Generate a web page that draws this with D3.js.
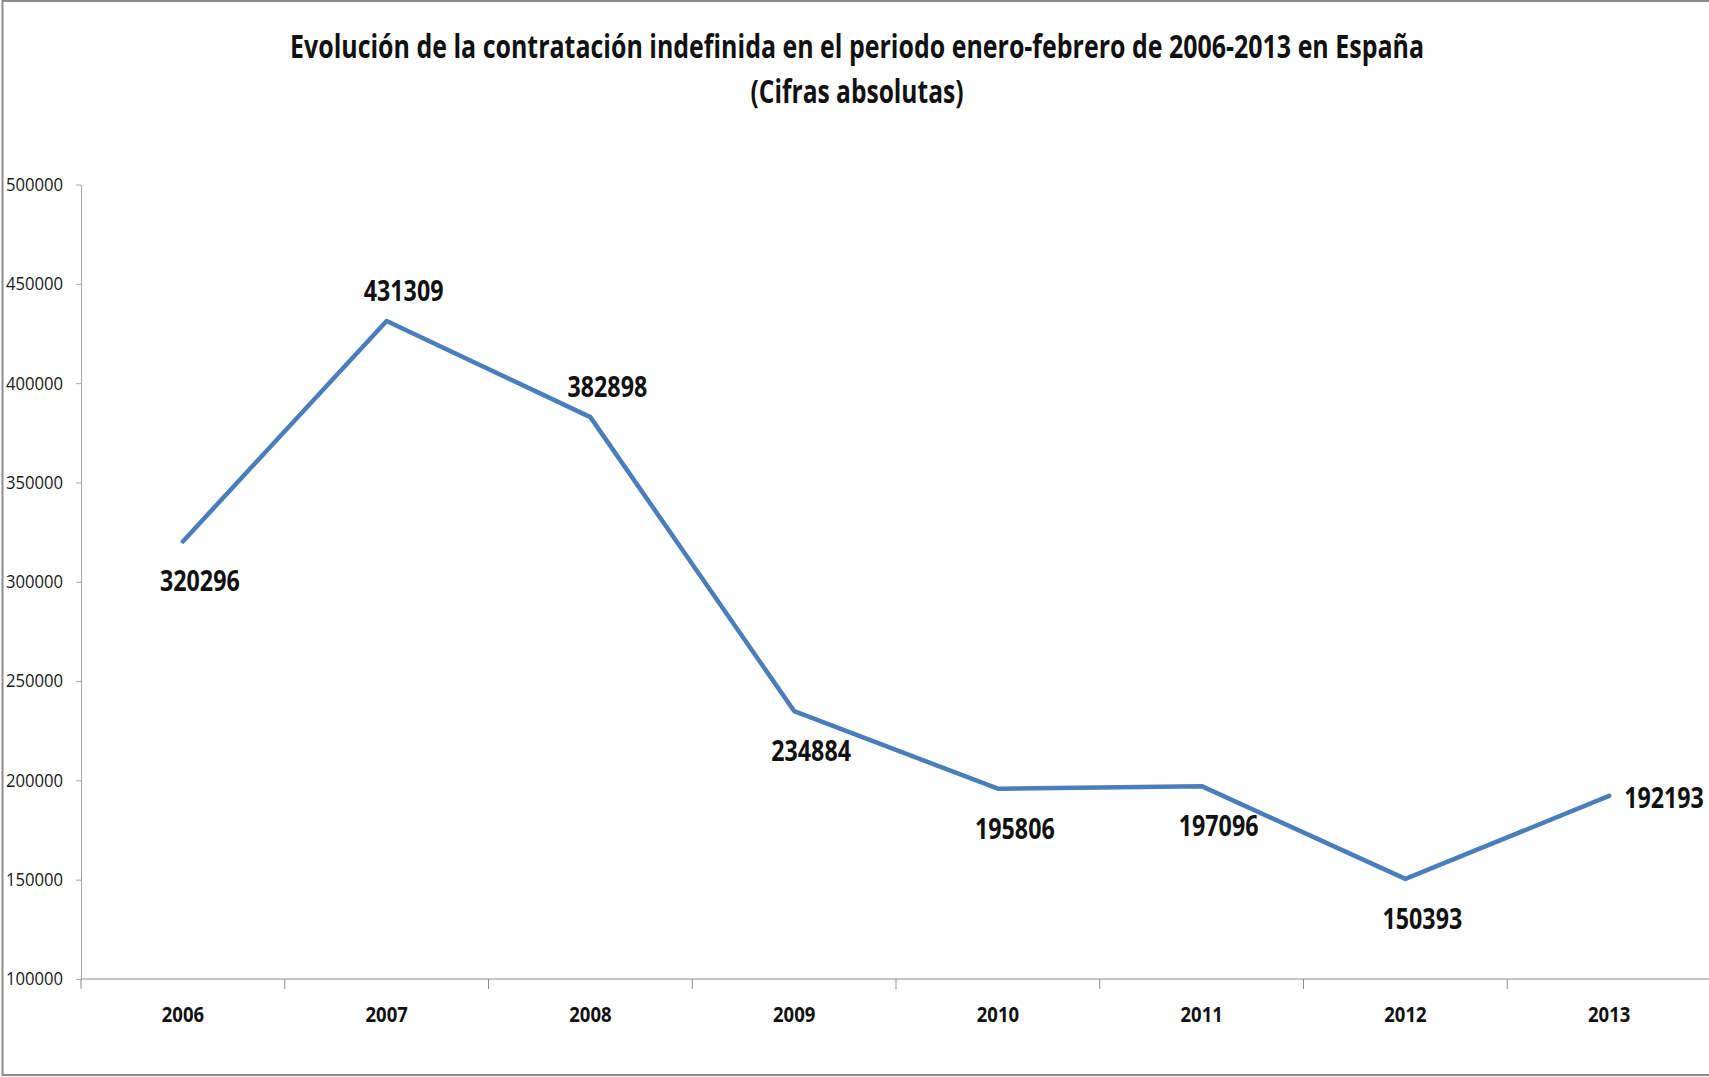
<!DOCTYPE html>
<html>
<head>
<meta charset="utf-8">
<script src="https://cdn.jsdelivr.net/npm/d3@7"></script>
<style>
  html, body { margin: 0; padding: 0; background: #fff; overflow: hidden; }
  svg { display: block; }
</style>
</head>
<body>
<svg id="chart" width="1709" height="1077"></svg>
<script>
// ---- data ----
const years = ["2006", "2007", "2008", "2009", "2010", "2011", "2012", "2013"];
const contratos = [320296, 431309, 382898, 234884, 195806, 197096, 150393, 192193];
const labelPlacement = ["below", "above", "above", "below", "below", "below", "below", "right"];
const yTicks = [100000, 150000, 200000, 250000, 300000, 350000, 400000, 450000, 500000];
const titleLines = [
  "Evolución de la contratación indefinida en el periodo enero-febrero de 2006-2013 en España",
  "(Cifras absolutas)"
];

// ---- layout ----
const W = 1709, H = 1077;
const plot = { left: 81, right: 1711, top: 184.5, bottom: 979 };
const svg = d3.select("#chart");
const FONT = "'Open Sans', 'Liberation Sans', sans-serif";

function squeeze(sel, k) {
  sel.each(function () {
    const w = this.getComputedTextLength();
    d3.select(this).attr("textLength", w * k).attr("lengthAdjust", "spacingAndGlyphs");
  });
}

// border
svg.append("rect")
  .attr("x", 2.5).attr("y", 1).attr("width", W + 20).attr("height", 1074)
  .attr("fill", "#fff").attr("stroke", "#8c8c8c").attr("stroke-width", 2);

// scales
const x = d3.scaleBand().domain(years).range([plot.left, plot.right]).padding(0);
const y = d3.scaleLinear().domain([100000, 500000]).range([plot.bottom, plot.top]);

// y axis
const yAxis = svg.append("g")
  .attr("transform", `translate(${plot.left},0)`)
  .call(d3.axisLeft(y).tickValues(yTicks).tickFormat(d3.format("d"))
    .tickSizeInner(5).tickSizeOuter(0).tickPadding(13));
yAxis.select(".domain").attr("stroke", "#a6a6a6");
yAxis.selectAll(".tick line").attr("stroke", "#a6a6a6");
yAxis.selectAll(".tick text")
  .attr("font-family", FONT).attr("font-size", 18.5).attr("fill", "#1a1a1a");
squeeze(yAxis.selectAll(".tick text"), 0.9);

// x axis (labels centered in bands)
const xAxis = svg.append("g")
  .attr("transform", `translate(0,${plot.bottom})`)
  .call(d3.axisBottom(x).tickSize(0).tickPadding(27));
xAxis.select(".domain").remove();
xAxis.selectAll(".tick text")
  .attr("font-family", FONT).attr("font-size", 22).attr("font-weight", "bold").attr("fill", "#111");
squeeze(xAxis.selectAll(".tick text"), 0.84);
// axis line and boundary ticks
svg.append("line")
  .attr("x1", plot.left).attr("x2", plot.right)
  .attr("y1", plot.bottom).attr("y2", plot.bottom)
  .attr("stroke", "#8c8c8c").attr("stroke-width", 1.2);
const boundaries = years.map(d => x(d)).concat([x(years[years.length - 1]) + x.bandwidth()]);
svg.append("g").selectAll("line").data(boundaries).join("line")
  .attr("x1", d => d).attr("x2", d => d)
  .attr("y1", plot.bottom).attr("y2", plot.bottom + 10)
  .attr("stroke", "#8c8c8c").attr("stroke-width", 1);

// line
const pts = years.map((yr, i) => ({ yr, v: contratos[i], pos: labelPlacement[i] }));
const cx = d => x(d.yr) + x.bandwidth() / 2;
svg.append("path")
  .datum(pts)
  .attr("fill", "none")
  .attr("stroke", "#4a7ebb")
  .attr("stroke-width", 4.5)
  .attr("stroke-linejoin", "round")
  .attr("stroke-linecap", "round")
  .attr("d", d3.line().x(cx).y(d => y(d.v)));

// data labels
const labels = svg.append("g").selectAll("text").data(pts).join("text")
  .attr("font-family", FONT).attr("font-size", 28).attr("font-weight", "bold").attr("fill", "#111")
  .attr("text-anchor", d => d.pos === "right" ? "start" : "middle")
  .attr("x", d => d.pos === "right" ? cx(d) + 15 : cx(d) + 17)
  .attr("y", d => {
    const py = y(d.v);
    if (d.pos === "above") return py - 30 + 10;
    if (d.pos === "below") return py + 40 + 10;
    return py + 2 + 10;
  })
  .text(d => d.v);
squeeze(labels, 0.83);

// title
const title = svg.append("g").selectAll("text").data(titleLines).join("text")
  .attr("x", 857).attr("y", (d, i) => i === 0 ? 58 : 103)
  .attr("text-anchor", "middle")
  .attr("font-family", FONT).attr("font-size", 33).attr("font-weight", "bold").attr("fill", "#111")
  .text(d => d);
title.each(function (d, i) {
  d3.select(this).attr("textLength", i === 0 ? 1134 : 213).attr("lengthAdjust", "spacingAndGlyphs");
});
</script>
</body>
</html>
